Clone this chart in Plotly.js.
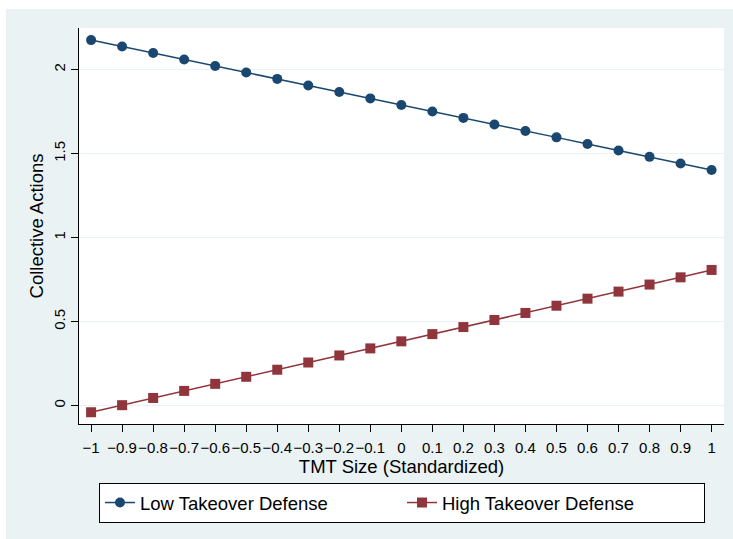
<!DOCTYPE html>
<html>
<head>
<meta charset="utf-8">
<script src="https://cdn.plot.ly/plotly-3.0.1.min.js"></script>
<style>html,body{margin:0;padding:0;background:#fff;}#chart{width:733px;height:539px;}</style>
</head>
<body>
<div id="chart"></div>
<script>
var tmtSize = [-1, -0.9, -0.8, -0.7, -0.6, -0.5, -0.4, -0.3, -0.2, -0.1, 0, 0.1, 0.2, 0.3, 0.4, 0.5, 0.6, 0.7, 0.8, 0.9, 1];
var lowDefense = [2.176, 2.138, 2.099, 2.061, 2.022, 1.983, 1.945, 1.906, 1.867, 1.829, 1.790, 1.751, 1.713, 1.674, 1.635, 1.597, 1.558, 1.519, 1.481, 1.442, 1.403];
var highDefense = [-0.039, 0.003, 0.046, 0.088, 0.130, 0.172, 0.214, 0.257, 0.299, 0.341, 0.383, 0.426, 0.468, 0.510, 0.552, 0.595, 0.637, 0.679, 0.721, 0.764, 0.808];
var seriesNames = ["Low Takeover Defense", "High Takeover Defense"];
var yTicks = [0, 0.5, 1, 1.5, 2];

var FONT = "Liberation Sans, Arial, Helvetica, sans-serif";
var BG = "#EAF2F3";

var traces = [
  {x: tmtSize, y: lowDefense, name: seriesNames[0], type: "scatter", mode: "lines+markers",
   line: {color: "#1A476F", width: 1.5}, marker: {symbol: "circle", size: 10, color: "#1A476F"}},
  {x: tmtSize, y: highDefense, name: seriesNames[1], type: "scatter", mode: "lines+markers",
   line: {color: "#90353B", width: 1.5}, marker: {symbol: "square", size: 10, color: "#90353B"}}
];

var layout = {
  width: 733, height: 539,
  margin: {l: 79, r: 9, t: 28, b: 115, pad: 0},
  paper_bgcolor: "#ffffff",
  plot_bgcolor: "#ffffff",
  font: {family: FONT, size: 15, color: "#000"},
  showlegend: true,
  legend: {
    orientation: "h", x: 0.031, xanchor: "left", y: -0.149, yanchor: "top",
    bgcolor: "#ffffff", bordercolor: "#000", borderwidth: 1,
    font: {family: FONT, size: 18.5, color: "#000"},
    entrywidth: 257, entrywidthmode: "pixels", itemclick: false
  },
  xaxis: {
    range: [-1.039, 1.040], tickmode: "array", tickvals: tmtSize,
    showgrid: false, zeroline: false, showline: true, linecolor: "#000", linewidth: 1,
    ticks: "outside", ticklen: 7, tickcolor: "#000", tickwidth: 1, ticklabelstandoff: 3, tickangle: 0,
    tickfont: {family: FONT, size: 15, color: "#000"},
    title: {text: "TMT Size (Standardized)", font: {family: FONT, size: 18.5, color: "#000"}, standoff: 2}
  },
  yaxis: {
    range: [-0.109, 2.248], tickmode: "array", tickvals: yTicks,
    showgrid: true, gridcolor: BG, gridwidth: 1.5, zeroline: false,
    showline: true, linecolor: "#000", linewidth: 1,
    ticks: "outside", ticklen: 7, tickcolor: "#000", tickwidth: 1, tickangle: -90,
    tickfont: {family: FONT, size: 15, color: "#000"},
    title: {text: "Collective Actions", font: {family: FONT, size: 18.5, color: "#000"}, standoff: 2}
  },
  shapes: [
    {type: "rect", xref: "paper", yref: "paper", x0: -73/645, x1: 1 + 20/645, y0: -140/396, y1: 1 + 19/396,
     fillcolor: BG, line: {width: 0}, layer: "below"},
    {type: "rect", xref: "paper", yref: "paper", x0: 0, x1: 1, y0: 0, y1: 1,
     fillcolor: "#ffffff", line: {width: 0}, layer: "below"}
  ]
};

Plotly.newPlot("chart", traces, layout, {displayModeBar: false, staticPlot: true});
</script>
</body>
</html>
